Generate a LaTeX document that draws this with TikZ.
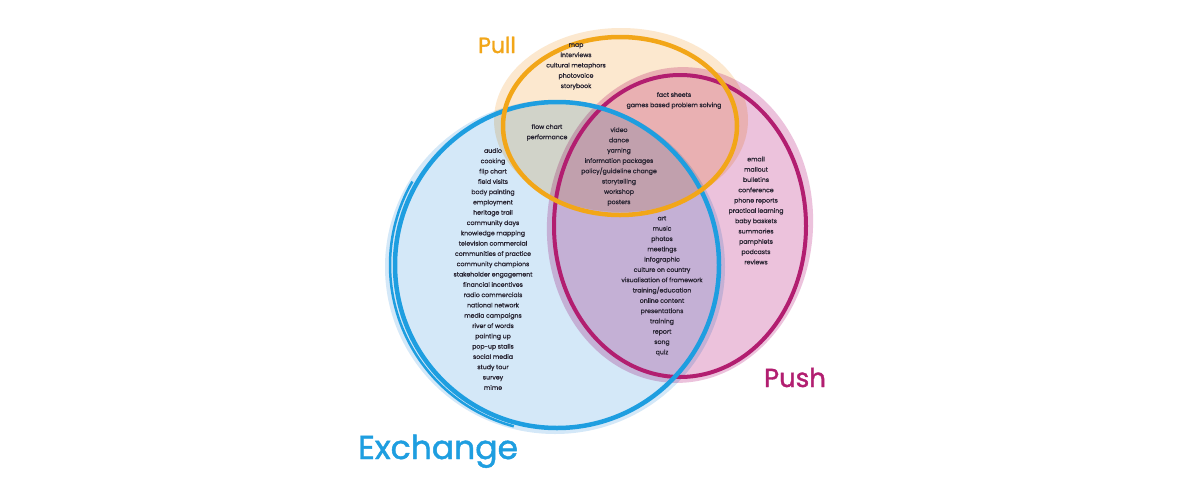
\documentclass[tikz,border=0pt]{standalone}
\usepackage{fontspec}
\setmainfont{Poppins}
\newfontfamily\listfont{Poppins}[FakeBold=0.9]
\newfontfamily\titlefont{Poppins}[FakeBold=1.4]
\definecolor{pullc}{RGB}{242,166,24}
\definecolor{pushc}{RGB}{178,30,112}
\definecolor{exc}{RGB}{30,158,224}
\definecolor{pullfill}{RGB}{252,232,207}
\definecolor{pushfill}{RGB}{236,194,220}
\definecolor{exfill}{RGB}{212,232,248}
\definecolor{txt}{RGB}{40,36,50}
\begin{document}
\begin{tikzpicture}[x=1pt,y=-1pt,
  list/.style={align=center, font=\listfont\fontsize{6.2}{10.3}\selectfont, text=txt, inner sep=0pt},
  title/.style={inner sep=0pt, anchor=base},
  ring/.style={line width=4.5pt}]
\useasboundingbox (0,0) rectangle (1200,480);
\fill[white] (0,0) rectangle (1200,480);
\begin{scope}[blend mode=multiply]
  \fill[pullfill] (621,120) ellipse [x radius=127pt, y radius=92pt];
  \fill[exfill] (555,267) ellipse [x radius=170pt, y radius=167pt];
  \fill[pushfill,rotate around={-4:(680,225)}] (680,225) ellipse [x radius=133pt, y radius=158pt];
\end{scope}
% outlines
\draw[pushc, line width=4pt] (680,226) ellipse [x radius=126pt, y radius=151pt];
\draw[exc, ring] (557,265) ellipse [x radius=162pt, y radius=163pt];
\draw[exc, line width=2.5pt] (557,265) ++(150:167pt and 167pt) arc [start angle=150, end angle=255, x radius=167pt, y radius=167pt];
\draw[pullc, ring] (620,126) ellipse [x radius=117pt, y radius=89pt];
% titles
\node[title, text=pullc, font=\titlefont\fontsize{22}{22}\selectfont] (tpull) at (497,53) {Pull};
\node[title, text=pushc, font=\titlefont\fontsize{26}{26}\selectfont] (tpush) at (795,387) {Push};
\node[title, text=exc, font=\titlefont\fontsize{33}{33}\selectfont] (tex) at (438,459) {Exchange};
% lists
\node[list] (lpull) at (576,66.5) {map\\interviews\\cultural metaphors\\photovoice\\storybook};
\node[list] (lpullpush) at (674,100.5) {fact sheets\\games based problem solving};
\node[list] (lpullex) at (547,132.5) {flow chart\\performance};
\node[list] (lall) at (619,166.5) {video\\dance\\yarning\\information packages\\policy/guideline change\\storytelling\\workshop\\posters};
\node[list] (lex) at (493,269) {audio\\cooking\\flip chart\\field visits\\body painting\\employment\\heritage trail\\community days\\knowledge mapping\\television commercial\\communities of practice\\community champions\\stakeholder engagement\\financial incentives\\radio commercials\\national network\\media campaigns\\river of words\\painting up\\pop-up stalls\\social media\\study tour\\survey\\mime};
\node[list] (lpush) at (756,210.5) {email\\mailout\\bulletins\\conference\\phone reports\\practical learning\\baby baskets\\summaries\\pamphlets\\podcasts\\reviews};
\node[list] (lexpush) at (662,286) {art\\music\\photos\\meetings\\infographic\\culture on country\\visualisation of framework\\training/education\\online content\\presentations\\training\\report\\song\\quiz};
\end{tikzpicture}
\end{document}
